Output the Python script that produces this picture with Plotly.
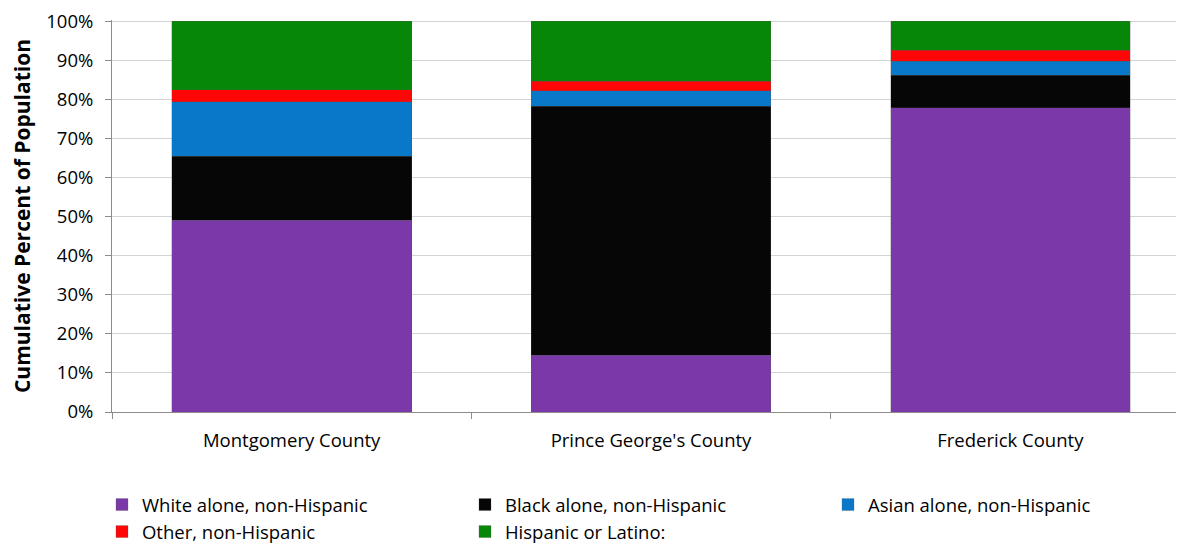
import plotly.graph_objects as go

counties = ["Montgomery County", "Prince George's County", "Frederick County"]
white = [49.0, 14.5, 77.8]
black = [16.5, 63.7, 8.4]
asian = [13.9, 4.0, 3.6]
other = [3.0, 2.4, 2.7]
hispanic = [17.6, 15.4, 7.5]
y_ticks = [0, 10, 20, 30, 40, 50, 60, 70, 80, 90, 100]

series = [
    ("White alone, non-Hispanic", white, "#7a38a8"),
    ("Black alone, non-Hispanic", black, "#060606"),
    ("Asian alone, non-Hispanic", asian, "#0a78c8"),
    ("Other, non-Hispanic", other, "#fe0606"),
    ("Hispanic or Latino:", hispanic, "#078707"),
]

font_family = "Open Sans, Liberation Sans, sans-serif"
fs = 18.5

fig = go.Figure()
for name, vals, color in series:
    fig.add_trace(go.Bar(
        x=counties, y=vals, name=name, width=0.667,
        marker=dict(color=color, line=dict(color="rgba(90,90,90,0.45)", width=0.6)),
    ))

# the page body has an 8px default margin, so the figure is offset by 8px
fig.update_layout(
    barmode="stack",
    width=1184, height=546,
    margin=dict(l=104, r=2, t=12, b=142, autoexpand=False),
    plot_bgcolor="white", paper_bgcolor="white",
    font=dict(family=font_family, size=fs, color="#000000"),
    showlegend=True,
    legend=dict(
        orientation="h",
        x=-0.0093, xanchor="left", y=-0.1888, yanchor="top",
        entrywidth=318, entrywidthmode="pixels",
        font=dict(size=fs, family=font_family), traceorder="normal",
        itemclick=False, tracegroupgap=0,
    ),
)

fig.update_xaxes(
    type="category",
    showline=True, linecolor="#8c8c8c", linewidth=1,
    ticks="outside", tickson="boundaries", ticklen=6, tickcolor="#8c8c8c",
    showgrid=False, tickfont=dict(size=fs), automargin=False,
    ticklabelstandoff=12, ticklabeloverflow="allow",
)
fig.update_yaxes(
    range=[0, 100.3], tickmode="array", tickvals=y_ticks,
    ticktext=[f"{v}%" for v in y_ticks],
    showline=True, linecolor="#8c8c8c", linewidth=1,
    ticks="outside", ticklen=6, tickcolor="#8c8c8c",
    showgrid=True, gridcolor="#d4d4d4", gridwidth=1,
    tickfont=dict(size=fs), automargin=False,
    ticklabelstandoff=8, ticklabeloverflow="allow",
    title=dict(text="<b>Cumulative Percent of Population</b>", font=dict(size=21), standoff=24),
)

fig.write_html("out.html")
